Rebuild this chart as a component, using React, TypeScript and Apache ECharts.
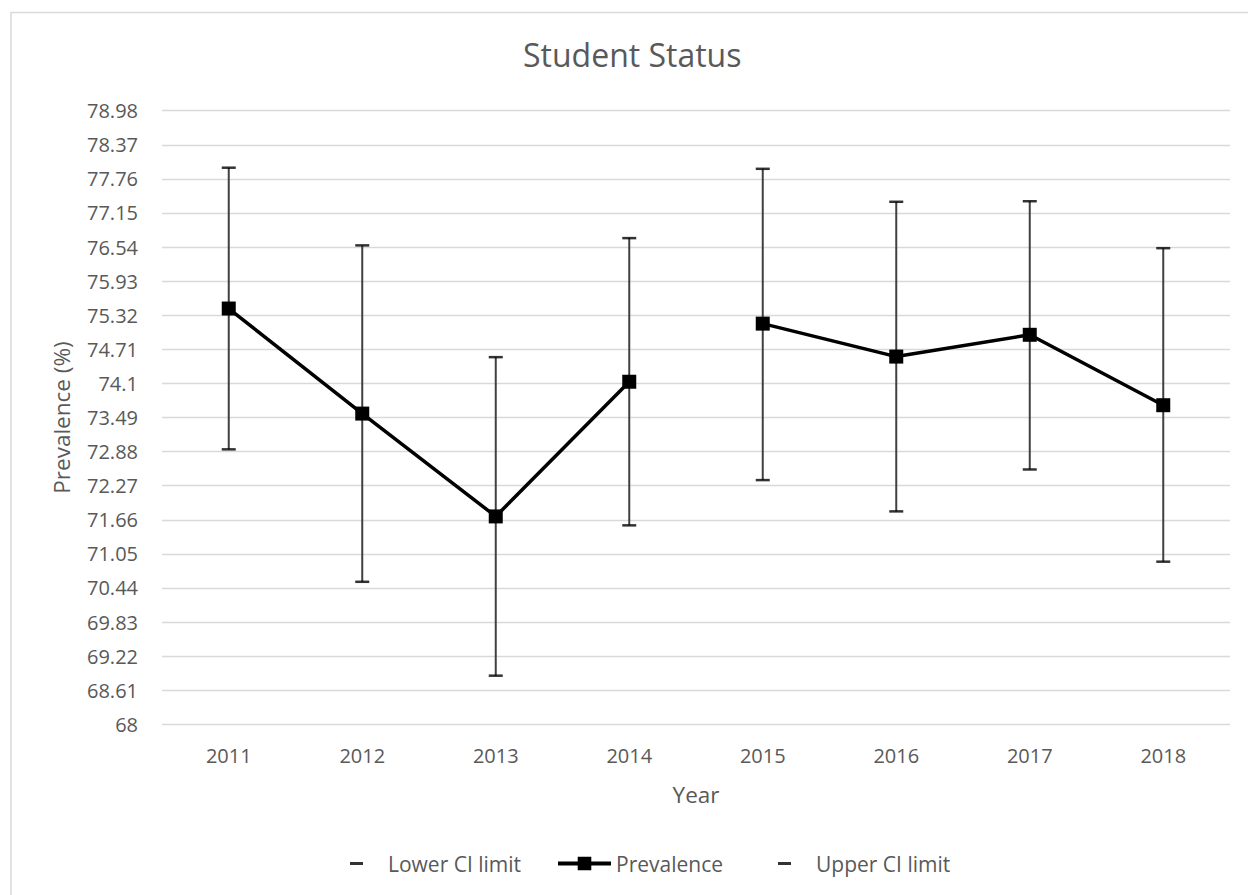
import React, { useEffect, useRef } from 'react';
import * as echarts from 'echarts';

const years = ['2011', '2012', '2013', '2014', '2015', '2016', '2017', '2018'];
const prevalence = [75.44, 73.56, 71.72, 74.13, 75.17, 74.58, 74.97, 73.71];
const lowerCI = [72.92, 70.55, 68.87, 71.56, 72.37, 71.81, 72.56, 70.91];
const upperCI = [77.96, 76.57, 74.57, 76.7, 77.94, 77.35, 77.36, 76.52];
const yTicks = [68, 68.61, 69.22, 69.83, 70.44, 71.05, 71.66, 72.27, 72.88, 73.49, 74.1, 74.71, 75.32, 75.93, 76.54, 77.15, 77.76, 78.37, 78.98];
// the prevalence line is broken between 2014 and 2015
const breakAfter = 3;

const FONT = "'Open Sans', sans-serif";
const TEXT = '#595959';
const GRID = '#d9d9d9';
const DASH_ICON = 'path://M0,0H13V3H0Z M33,0H33.01V0.01H33Z';

export default function App() {
  const ref = useRef<HTMLDivElement>(null);
  useEffect(() => {
    document.body.style.margin = '0';
    const chart = echarts.init(ref.current!, null, { renderer: 'svg' });
    const legendBase = {
      top: 853,
      padding: 0,
      itemGap: 0,
      selectedMode: false,
      textStyle: { color: TEXT, fontSize: 21, fontFamily: FONT },
    };
    const prevSeries = (part: number) => ({
      type: 'line',
      name: 'Prevalence',
      data: prevalence.map((v, i) => ((part === 0 ? i <= breakAfter : i > breakAfter) ? v : null)),
      symbol: 'rect',
      symbolSize: 14,
      lineStyle: { color: '#000', width: 3.5 },
      itemStyle: { color: '#000' },
      z: 3,
    });
    const option: any = {
      animation: false,
      textStyle: { fontFamily: FONT },
      title: {
        text: 'Student Status',
        left: 523,
        top: 38,
        padding: 0,
        textStyle: { fontSize: 32, fontWeight: 'normal', color: TEXT, fontFamily: FONT },
      },
      graphic: [
        {
          type: 'rect',
          silent: true,
          z: -10,
          shape: { x: 11, y: 12.5, width: 1400, height: 1000 },
          style: { fill: 'none', stroke: GRID, lineWidth: 1.5 },
        },
      ],
      grid: { left: 162, right: 18, top: 110.7, bottom: 170.7, containLabel: false, outerBoundsMode: 'none' },
      xAxis: {
        type: 'category',
        data: years,
        boundaryGap: true,
        axisLine: { show: false },
        axisTick: { show: false },
        axisLabel: { color: TEXT, fontSize: 20, margin: 21, fontFamily: FONT },
        name: 'Year',
        nameLocation: 'middle',
        nameGap: 59,
        nameTextStyle: { color: TEXT, fontSize: 22.5, fontFamily: FONT },
      },
      yAxis: {
        type: 'value',
        min: 68,
        max: 78.98,
        axisLine: { show: false },
        axisTick: { show: false, customValues: yTicks },
        axisLabel: { customValues: yTicks, color: TEXT, fontSize: 20, margin: 24, fontFamily: FONT },
        splitLine: { show: true, lineStyle: { color: GRID, width: 1.3 } },
        name: 'Prevalence (%)',
        nameLocation: 'middle',
        nameGap: 89,
        nameTextStyle: { color: TEXT, fontSize: 22.5, fontFamily: FONT },
      },
      legend: [
        { ...legendBase, left: 350, itemWidth: 33, itemHeight: 3, data: [{ name: 'Lower CI limit', icon: DASH_ICON }] },
        {
          ...legendBase,
          left: 556,
          itemWidth: 53,
          itemHeight: 17,
          lineStyle: { width: 4, color: '#000' },
          data: ['Prevalence'],
        },
        { ...legendBase, left: 778, itemWidth: 33, itemHeight: 3, data: [{ name: 'Upper CI limit', icon: DASH_ICON }] },
      ],
      series: [
        {
          type: 'custom',
          name: 'CI range',
          silent: true,
          z: 1,
          data: years.map((_, i) => [i, lowerCI[i], upperCI[i]]),
          encode: { x: 0, y: [1, 2] },
          renderItem: (params: any, api: any) => {
            const lo = api.coord([api.value(0), api.value(1)]);
            const hi = api.coord([api.value(0), api.value(2)]);
            return {
              type: 'line',
              shape: { x1: lo[0], y1: lo[1], x2: hi[0], y2: hi[1] },
              style: { stroke: '#404040', lineWidth: 2 },
            };
          },
        },
        prevSeries(0),
        prevSeries(1),
        {
          type: 'scatter',
          name: 'Lower CI limit',
          data: lowerCI,
          symbol: 'rect',
          symbolSize: [14, 2.5],
          itemStyle: { color: '#000' },
          z: 4,
        },
        {
          type: 'scatter',
          name: 'Upper CI limit',
          data: upperCI,
          symbol: 'rect',
          symbolSize: [14, 2.5],
          itemStyle: { color: '#000' },
          z: 4,
        },
      ],
    };
    chart.setOption(option);
    return () => chart.dispose();
  }, []);
  return <div ref={ref} style={{ width: 1248, height: 895 }} />;
}
